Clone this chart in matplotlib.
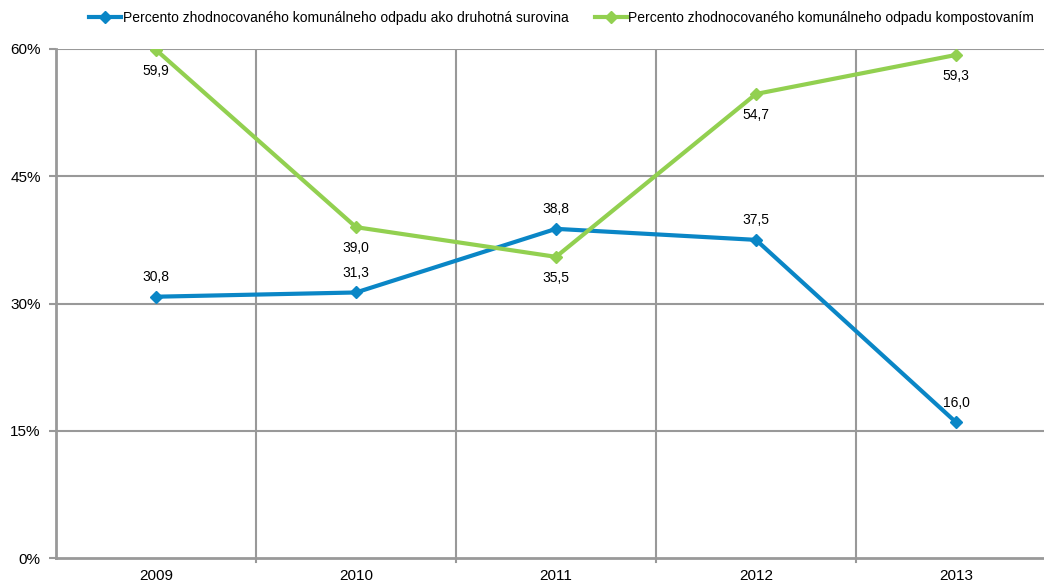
import matplotlib
matplotlib.use("Agg")
import matplotlib.pyplot as plt

years = ["2009", "2010", "2011", "2012", "2013"]
surovina = [30.8, 31.3, 38.8, 37.5, 16.0]
kompost = [59.9, 39.0, 35.5, 54.7, 59.3]
yticks = [0, 15, 30, 45, 60]

BLUE = "#0a86c6"
GREEN = "#92d050"
GRID = "#999999"

plt.rcParams["font.family"] = ["Liberation Sans", "DejaVu Sans"]

fig = plt.figure(figsize=(10.44, 5.85), dpi=100)
ax = fig.add_axes([56 / 1044, 27 / 585, 1 - 56 / 1044, 509 / 585])

xs = list(range(len(years)))
l1, = ax.plot(xs, surovina, color=BLUE, lw=3, marker="D", ms=6, zorder=3,
              label="Percento zhodnocovaného komunálneho odpadu ako druhotná surovina")
l2, = ax.plot(xs, kompost, color=GREEN, lw=3, marker="D", ms=6, zorder=3,
              label="Percento zhodnocovaného komunálneho odpadu kompostovaním")

for x, v in zip(xs, surovina):
    ax.annotate(f"{v:.1f}".replace(".", ","), (x, v), xytext=(0, 9),
                textcoords="offset points", ha="center", va="bottom", fontsize=10)
for x, v in zip(xs, kompost):
    ax.annotate(f"{v:.1f}".replace(".", ","), (x, v), xytext=(0, -10),
                textcoords="offset points", ha="center", va="top", fontsize=10)

ax.set_xlim(-0.5, 4.44)
ax.set_ylim(0, 60)
ax.set_yticks(yticks)
ax.set_yticklabels([f"{t}%" for t in yticks], fontsize=11)
ax.set_xticks(xs)
ax.set_xticklabels(years, fontsize=11)
ax.tick_params(axis="x", length=0, pad=8)
ax.tick_params(axis="y", length=5, color=GRID, width=1.5, pad=6)

# category boundary lines and horizontal gridlines
for b in [0.5, 1.5, 2.5, 3.5]:
    ax.axvline(b, color=GRID, lw=1.5, zorder=1)
    ax.plot([b, b], [0, -0.5], color=GRID, lw=1.5, clip_on=False)
for t in yticks[1:]:
    ax.axhline(t, color=GRID, lw=1.5, zorder=1)

for s in ["top", "right"]:
    ax.spines[s].set_visible(False)
for s in ["left", "bottom"]:
    ax.spines[s].set_color(GRID)
    ax.spines[s].set_linewidth(2)

fig.legend(handles=[l1, l2], loc="center", bbox_to_anchor=(0.538, 1 - 18 / 585),
           ncol=2, frameon=False, fontsize=10, handlelength=2.3, columnspacing=1.9,
           handletextpad=0.1, borderpad=0)

fig.savefig("out.png")
